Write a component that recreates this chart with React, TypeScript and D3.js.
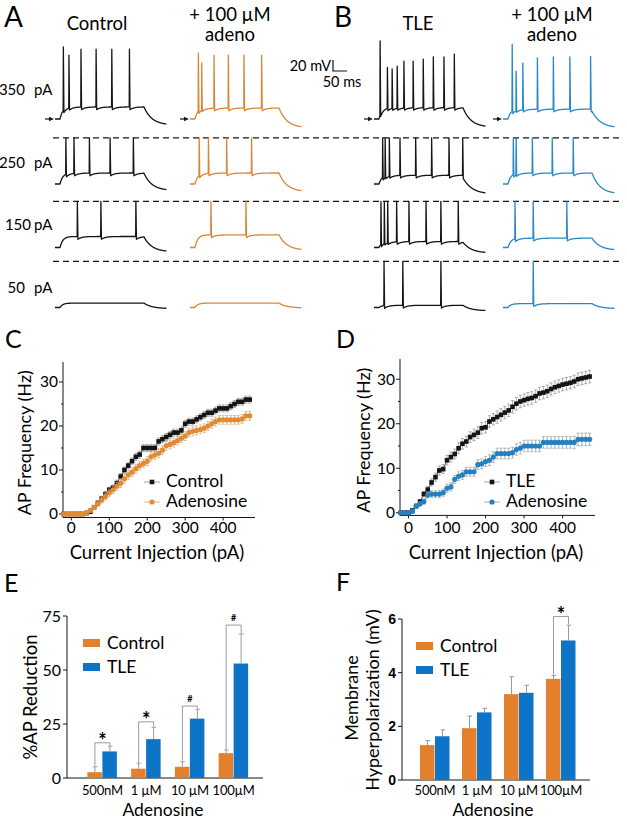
import React from 'react';
import * as d3 from 'd3';

const FONT = "Lato, 'Open Sans', 'DejaVu Sans', sans-serif";
const BLACK = '#151515';
const ORANGE_TRACE = '#D9863A';
const BLUE_TRACE = '#2A88C6';
const ORANGE = '#E4802C';
const BLUE = '#0E74C8';
const ORANGE_PT = '#E08B36';
const BLUE_PT = '#2380C2';
const GRAY = '#8f8f8f';

// ---------------- Panels A & B : voltage traces ----------------
const stepCurrents = ['350', '250', '150', '50'];
// spike times (ms after current onset), rows: 350, 250, 150, 50 pA
const ctrlSpikes = [[12, 32, 75, 129, 185, 248], [21, 50, 105, 179, 262], [62, 146, 271], []];
const ctrlAdoSpikes = [[12, 24, 68, 119, 175, 238], [15, 48, 113, 202], [57, 182], []];
const tleSpikes = [[4, 30, 47, 65, 89, 122, 158, 194, 232, 269], [13, 22, 37, 75, 131, 188, 250, 299], [7, 19, 31, 63, 107, 168, 221, 283], [18, 85, 221]];
const tleAdoSpikes = [[15, 29, 53, 105, 162, 221, 295], [19, 29, 87, 158, 233], [25, 90, 210], [90]];
// spike peaks (mV) in the 350 pA row (lower rows are clipped at the dashed line)
const ctrlPeaks350 = [61, 46, 57, 57, 57, 57];
const ctrlAdoPeaks350 = [50, 32, 46, 46, 46, 46];
const tlePeaks350 = [72, 24, 21, 26, 35, 35, 39, 43, 43, 48];
const tleAdoPeaks350 = [66, 17, 32, 41, 43, 43, 44];
const clipPeakMv = 14;
const restMv = -70;
const ctrlPlateau = [-48, -50, -50, -62];
const ctrlAdoPlateau = [-50, -50, -47, -62];
const tlePlateau = [-49, -54, -59, -66];
const tleAdoPlateau = [-52, -50, -53, -63];
const ctrlEnd = [-81, -82, -78, -72];
const ctrlAdoEnd = [-86, -84, -75, -71];
const tleEnd = [-85, -88, -80, -76];
const tleAdoEnd = [-86, -88, -75, -72];

// ---------------- Panels C & D : f-I curves ----------------
const currentsPA = [-20, -10, 0, 10, 20, 30, 40, 50, 60, 70, 80, 90, 100, 110, 120, 130, 140, 150, 160, 170, 180, 190, 200, 210, 220, 230, 240, 250, 260, 270, 280, 290, 300, 310, 320, 330, 340, 350, 360, 370, 380, 390, 400, 410, 420, 430, 440, 450, 460, 470];
const ctrlFreq = [0, 0, 0, 0, 0, 0, 0.2, 0.5, 1.5, 2.5, 3.5, 4.5, 5.5, 6, 7, 8.5, 10, 11, 12, 13, 13.5, 15, 15, 15, 15, 16.5, 17, 17.5, 18, 18.5, 18.5, 19, 20.5, 21, 21, 21.5, 22, 22.5, 23, 23, 23.5, 24, 24, 24, 24.5, 25, 25.5, 25.5, 26, 26];
const ctrlFreqErr = [0, 0, 0, 0, 0, 0, 0.2, 0.3, 0.4, 0.5, 0.5, 0.6, 0.6, 0.6, 0.7, 0.7, 0.7, 0.7, 0.7, 0.8, 0.8, 0.8, 0.8, 0.8, 0.8, 0.8, 0.8, 0.8, 0.8, 0.8, 0.8, 0.8, 0.8, 0.8, 0.8, 0.8, 0.8, 0.8, 0.8, 0.8, 0.8, 0.8, 0.8, 0.8, 0.8, 0.8, 0.8, 0.8, 0.8, 0.8];
const ctrlAdoFreq = [0, 0, 0, 0, 0, 0, 0.3, 0.8, 1.5, 2.3, 3.2, 4, 4.8, 5.5, 6.3, 7, 8, 8.9, 9.5, 10.3, 11, 11.5, 12, 13, 13.4, 13.8, 14.5, 15.5, 15.8, 16.2, 16.7, 17.2, 17.7, 18.5, 18.8, 19, 19.2, 19.5, 20, 20.5, 21, 21.4, 21.4, 21.4, 21.4, 21.4, 21.4, 21.6, 22.3, 22.3];
const ctrlAdoFreqErr = [0, 0, 0, 0, 0, 0, 0.3, 0.4, 0.5, 0.6, 0.7, 0.8, 0.8, 0.9, 0.9, 1, 1, 1, 1, 1, 1, 1, 1, 1, 1, 1, 1, 1, 1, 1, 1, 1, 1, 1, 1, 1, 1, 1, 1, 1, 1, 1, 1, 1, 1, 1, 1, 1, 1, 1];
const tleFreq = [0, 0, 0, 0.5, 1.5, 2.5, 4.2, 5.2, 6.8, 8, 9.5, 9.8, 11.8, 12.5, 13.2, 14.5, 15.5, 16, 17, 17.5, 18, 19, 19.2, 20.5, 21, 21.5, 22, 22.5, 23, 23.8, 24.5, 25, 25.3, 25.6, 25.8, 26.2, 26.8, 27, 27.3, 27.8, 28.2, 28.5, 28.8, 29, 29.2, 29.5, 30, 30.2, 30.4, 30.6];
const tleFreqErr = [0, 0, 0, 0.3, 0.4, 0.5, 0.6, 0.7, 0.8, 0.9, 1, 1, 1.1, 1.1, 1.1, 1.2, 1.2, 1.2, 1.2, 1.3, 1.3, 1.3, 1.3, 1.3, 1.3, 1.4, 1.4, 1.4, 1.4, 1.4, 1.4, 1.4, 1.4, 1.4, 1.4, 1.4, 1.4, 1.4, 1.4, 1.4, 1.4, 1.4, 1.4, 1.4, 1.4, 1.4, 1.4, 1.4, 1.4, 1.4];
const tleAdoFreq = [0, 0, 0, 0.3, 1.5, 2, 2.5, 4, 4.2, 4.2, 4.2, 4.5, 5.5, 5.8, 7.5, 8.2, 8.5, 9.2, 9.2, 9.2, 10.8, 11, 11.5, 11.8, 12.5, 13.3, 13.3, 13.3, 13.3, 13.5, 14.2, 14.5, 15, 15, 15, 15, 15, 15.8, 15.8, 15.8, 15.8, 15.8, 15.8, 15.8, 15.8, 15.8, 16.5, 16.5, 16.5, 16.5];
const tleAdoFreqErr = [0, 0, 0, 0.3, 0.5, 0.5, 0.6, 0.7, 0.7, 0.7, 0.8, 0.8, 0.9, 0.9, 0.9, 1, 1, 1, 1, 1, 1.1, 1.1, 1.1, 1.2, 1.2, 1.2, 1.2, 1.2, 1.2, 1.2, 1.3, 1.3, 1.3, 1.3, 1.3, 1.3, 1.3, 1.3, 1.3, 1.3, 1.3, 1.3, 1.3, 1.3, 1.3, 1.4, 1.4, 1.4, 1.4, 1.4];
const freqTicks = [0, 10, 20, 30];
const currentTicks = [0, 100, 200, 300, 400];

// ---------------- Panels E & F : bar charts ----------------
const concentrations = ['500nM', '1 µM', '10 µM', '100µM'];
const groups = ['Control', 'TLE'];
const apRedCtrl = [2.7, 4.3, 5.2, 11.5];
const apRedCtrlErr = [2.5, 2.6, 2.3, 1.5];
const apRedTle = [12.3, 18, 27.5, 53];
const apRedTleErr = [2.5, 5.5, 4.3, 13.7];
const apRedSig = ['*', '*', '#', '#'];
const apRedBracket = [16.3, 26, 33.3, 70.8];
const apRedTicks = [0, 25, 50, 75];
const hypCtrl = [1.3, 1.93, 3.2, 3.77];
const hypCtrlErr = [0.17, 0.45, 0.65, 0.12];
const hypTle = [1.63, 2.52, 3.25, 5.2];
const hypTleErr = [0.24, 0.15, 0.28, 0.57];
const hypSig = ['', '', '', '*'];
const hypBracket = [0, 0, 0, 6.09];
const hypTicks = [0, 2, 4, 6];

// ---------------- trace generator ----------------
function traceVoltage(t: number, spikes: number[], peaks: number[], plateau: number, endV: number) {
  const baseAt = (tt: number) => {
    if (tt < 0) return restMv;
    if (tt <= 300) return restMv + (plateau - restMv) * (1 - Math.exp(-tt / 10));
    return endV + (plateau - endV) * Math.exp(-(tt - 300) / 28);
  };
  let v = baseAt(t);
  let last = -1;
  for (let i = 0; i < spikes.length; i++) if (spikes[i] <= t) last = i;
  if (last >= 0) {
    const dt = t - spikes[last];
    if (dt <= 2) return peaks[last] + (v - 5 - peaks[last]) * (dt / 2);
    v -= 5 * Math.exp(-(dt - 2) / 14);
  }
  const ni = spikes.findIndex((s) => s > t);
  if (ni >= 0 && spikes[ni] - t < 0.75) {
    return v + (peaks[ni] - v) * (1 - (spikes[ni] - t) / 0.75);
  }
  return v;
}

const sampleTimes: number[] = [];
for (let t = -18; t <= 380; t += 0.25) sampleTimes.push(t);

export default function App() {
  const W = 627;
  const H = 819;
  const mvPerPx = 0.55;
  const msPx = 0.28;
  const rowRestY = [119, 184, 247.5, 307.5];
  const traceCols = [
    { onset: 60, color: BLACK, spikes: ctrlSpikes, peaks350: ctrlPeaks350, plateau: ctrlPlateau, end: ctrlEnd },
    { onset: 195, color: ORANGE_TRACE, spikes: ctrlAdoSpikes, peaks350: ctrlAdoPeaks350, plateau: ctrlAdoPlateau, end: ctrlAdoEnd },
    { onset: 379, color: BLACK, spikes: tleSpikes, peaks350: tlePeaks350, plateau: tlePlateau, end: tleEnd },
    { onset: 508, color: BLUE_TRACE, spikes: tleAdoSpikes, peaks350: tleAdoPeaks350, plateau: tleAdoPlateau, end: tleAdoEnd },
  ];
  const vScale = (row: number) =>
    d3.scaleLinear().domain([restMv, 0]).range([rowRestY[row], rowRestY[row] + restMv * mvPerPx]);
  const tScale = (col: number) =>
    d3.scaleLinear().domain([0, 300]).range([traceCols[col].onset, traceCols[col].onset + 300 * msPx]);

  const traces: any[] = [];
  traceCols.forEach((c, ci) => {
    const ts = tScale(ci);
    stepCurrents.forEach((_, ri) => {
      const vs = vScale(ri);
      const spikes = c.spikes[ri];
      const peaks = ri === 0 ? c.peaks350 : spikes.map(() => clipPeakMv);
      const line = d3
        .line<number>()
        .x((t) => ts(t))
        .y((t) => vs(traceVoltage(t, spikes, peaks, c.plateau[ri], c.end[ri])));
      traces.push(
        <path key={`tr-${ci}-${ri}`} d={line(sampleTimes) || ''} fill="none" stroke={c.color} strokeWidth={1.3} strokeLinejoin="round" />
      );
    });
    const tip = ts(-18) - 1;
    const ay = vScale(0)(restMv);
    traces.push(
      <g key={`arrow-${ci}`}>
        <line x1={tip - 9} x2={tip - 4} y1={ay} y2={ay} stroke={BLACK} strokeWidth={1.2} />
        <path d={`M${tip},${ay} L${tip - 5},${ay - 2.3} L${tip - 5},${ay + 2.3} Z`} fill={BLACK} />
      </g>
    );
  });
  const dashedY = [1, 2, 3].map((r) => vScale(r)(clipPeakMv));

  const sbX = 333;
  const sbY = 71;

  const fiPanel = (key: string, xr: [number, number], yr: [number, number], yDom: [number, number], series: any[], labelX: number, titleX: number, legendX: number, legendNames: string[]) => {
    const x = d3.scaleLinear().domain([-22, 484]).range(xr);
    const y = d3.scaleLinear().domain(yDom).range(yr);
    const minorTicks = [5, 15, 25];
    return (
      <g key={key}>
        <line x1={xr[0]} x2={xr[0]} y1={yr[0]} y2={yr[1] + 2} stroke={BLACK} strokeWidth={1} />
        <line x1={xr[0]} x2={xr[1]} y1={yr[0]} y2={yr[0]} stroke={BLACK} strokeWidth={1} />
        {freqTicks.map((t) => (
          <g key={`yt${t}`}>
            <line x1={xr[0] - 4} x2={xr[0]} y1={y(t)} y2={y(t)} stroke={BLACK} />
            <text x={xr[0] - 5} y={y(t)} dy="0.35em" textAnchor="end" fontSize={15.5} fontFamily={FONT}>{t}</text>
          </g>
        ))}
        {minorTicks.map((t) => (
          <line key={`ym${t}`} x1={xr[0] - 2} x2={xr[0]} y1={y(t)} y2={y(t)} stroke={BLACK} />
        ))}
        {currentTicks.map((t) => (
          <g key={`xt${t}`}>
            <line x1={x(t)} x2={x(t)} y1={yr[0]} y2={yr[0] + 3} stroke={BLACK} />
            <text x={x(t)} y={533} textAnchor="middle" fontSize={15.5} fontFamily={FONT}>{t}</text>
          </g>
        ))}
        <text transform={`translate(${labelX},${(yr[0] + yr[1]) / 2 + 4}) rotate(-90)`} textAnchor="middle" dy="0.35em" fontSize={18} fontFamily={FONT}>AP Frequency (Hz)</text>
        <text x={titleX} y={559} textAnchor="middle" fontSize={18.5} fontFamily={FONT}>Current Injection (pA)</text>
        {series.map((s, si) => {
          const line = d3.line<number>().x((_, i) => x(currentsPA[i])).y((v) => y(v));
          return (
            <g key={`s${si}`}>
              <path d={line(s.values) || ''} fill="none" stroke={s.color} strokeWidth={0.8} />
              {s.values.map((v: number, i: number) => {
                const e = s.err[i];
                if (!e) return null;
                const cx = x(currentsPA[i]);
                return (
                  <g key={`e${i}`} stroke={s.errColor} strokeWidth={0.7}>
                    <line x1={cx} x2={cx} y1={y(v - e)} y2={y(v + e)} />
                    <line x1={cx - 1.6} x2={cx + 1.6} y1={y(v + e)} y2={y(v + e)} />
                    <line x1={cx - 1.6} x2={cx + 1.6} y1={y(v - e)} y2={y(v - e)} />
                  </g>
                );
              })}
              {s.values.map((v: number, i: number) =>
                s.shape === 'square' ? (
                  <rect key={`m${i}`} x={x(currentsPA[i]) - 2.3} y={y(v) - 2.3} width={4.6} height={4.6} fill={s.color} />
                ) : (
                  <circle key={`m${i}`} cx={x(currentsPA[i])} cy={y(v)} r={2.6} fill={s.color} />
                )
              )}
            </g>
          );
        })}
        {series.map((s, si) => {
          const ly = 482 + si * 20;
          return (
            <g key={`lg${si}`}>
              <line x1={legendX - 8} x2={legendX + 8} y1={ly} y2={ly} stroke={s.errColor} strokeWidth={0.8} />
              {s.shape === 'square' ? (
                <rect x={legendX - 2.3} y={ly - 2.3} width={4.6} height={4.6} fill={s.color} />
              ) : (
                <circle cx={legendX} cy={ly} r={2.6} fill={s.color} />
              )}
              <text x={legendX + 14} y={ly + 5} fontSize={17.5} fontFamily={FONT}>{legendNames[si]}</text>
            </g>
          );
        })}
      </g>
    );
  };

  const barPanel = (key: string, xAxis: [number, number], band: [number, number], yr: [number, number], yDom: [number, number], ticks: number[], ctrl: number[], ctrlErr: number[], tle: number[], tleErr: number[], sig: string[], bracket: number[], bold: boolean, legendX: number, legendY: number, xLabelY: number, titleY: number) => {
    const x0 = d3.scaleBand<string>().domain(concentrations).range(band);
    const x1 = d3.scaleBand<string>().domain(groups).range([-15, 15]);
    const y = d3.scaleLinear().domain(yDom).range(yr);
    const center = (c: string) => (x0(c) || 0) + x0.bandwidth() / 2;
    const bw = x1.bandwidth() - 0.5;
    return (
      <g key={key}>
        <line x1={xAxis[0]} x2={xAxis[0]} y1={yr[0]} y2={yr[1]} stroke={BLACK} />
        <line x1={xAxis[0]} x2={xAxis[1]} y1={yr[0]} y2={yr[0]} stroke={BLACK} />
        {ticks.map((t) => (
          <g key={`t${t}`}>
            <line x1={xAxis[0] - 4} x2={xAxis[0]} y1={y(t)} y2={y(t)} stroke={BLACK} />
            <text x={xAxis[0] - 6} y={y(t)} dy="0.35em" textAnchor="end" fontSize={bold ? 14 : 16} fontWeight={bold ? 'bold' : 'normal'} fontFamily={bold ? "'Liberation Sans', Arial, sans-serif" : FONT}>{t}</text>
          </g>
        ))}
        {concentrations.map((c, i) => {
          const cx = center(c);
          const xc = cx + (x1('Control') || 0);
          const xt = cx + (x1('TLE') || 0);
          const mc = xc + x1.bandwidth() / 2;
          const mt = xt + x1.bandwidth() / 2;
          return (
            <g key={c}>
              <rect x={xc} y={y(ctrl[i])} width={bw} height={y(0) - y(ctrl[i])} fill={ORANGE} />
              <rect x={xt} y={y(tle[i])} width={bw} height={y(0) - y(tle[i])} fill={BLUE} />
              <g stroke={GRAY} strokeWidth={0.9}>
                <line x1={mc} x2={mc} y1={y(ctrl[i])} y2={y(ctrl[i] + ctrlErr[i])} />
                <line x1={mc - 2} x2={mc + 2.5} y1={y(ctrl[i] + ctrlErr[i])} y2={y(ctrl[i] + ctrlErr[i])} />
                <line x1={mt} x2={mt} y1={y(tle[i])} y2={y(tle[i] + tleErr[i])} />
                <line x1={mt - 2} x2={mt + 2.5} y1={y(tle[i] + tleErr[i])} y2={y(tle[i] + tleErr[i])} />
              </g>
              {sig[i] ? (
                <g>
                  <path d={`M${mc},${y(ctrl[i] + ctrlErr[i]) - 1} V${y(bracket[i])} H${mt} V${y(tle[i] + tleErr[i]) - 1}`} fill="none" stroke={GRAY} strokeWidth={0.9} />
                  {sig[i] === '*' ? (
                    <text x={(mc + mt) / 2} y={y(bracket[i]) + 5} textAnchor="middle" fontSize={20} fontWeight="bold" fontFamily={FONT}>*</text>
                  ) : (
                    <text x={(mc + mt) / 2} y={y(bracket[i]) - 4} textAnchor="middle" fontSize={9} fontWeight="bold" fontFamily={FONT}>#</text>
                  )}
                </g>
              ) : null}
              <text x={cx} y={xLabelY} textAnchor="middle" fontSize={13} letterSpacing={-0.2} fontFamily={FONT}>{c}</text>
            </g>
          );
        })}
        {groups.map((g, gi) => (
          <g key={g}>
            <rect x={legendX} y={legendY + gi * 24 - 4} width={17} height={8} fill={gi === 0 ? ORANGE : BLUE} />
            <text x={legendX + 24} y={legendY + gi * 24 + 6} fontSize={17.5} fontFamily={FONT}>{g}</text>
          </g>
        ))}
        <text x={(band[0] + band[1]) / 2 - 5} y={titleY} textAnchor="middle" fontSize={17.5} fontFamily={FONT}>Adenosine</text>
      </g>
    );
  };

  return (
    <svg width={W} height={H} style={{ position: 'absolute', left: 0, top: 0, background: '#fff' }} fontFamily={FONT}>
      <rect x={0} y={0} width={W} height={H} fill="#fff" />
      <text x={4} y={27} fontSize={28}>A</text>
      <text x={334} y={27} fontSize={28}>B</text>
      <text x={5} y={348} fontSize={25}>C</text>
      <text x={336} y={348} fontSize={25}>D</text>
      <text x={4} y={592} fontSize={25}>E</text>
      <text x={336} y={591} fontSize={25}>F</text>

      <text x={97} y={30} textAnchor="middle" fontSize={18.5}>Control</text>
      <text x={230} y={21} textAnchor="middle" fontSize={18.5}>+ 100 µM</text>
      <text x={230} y={41} textAnchor="middle" fontSize={18.5}>adeno</text>
      <text x={418} y={30} textAnchor="middle" fontSize={18.5}>TLE</text>
      <text x={552} y={21} textAnchor="middle" fontSize={18.5}>+ 100 µM</text>
      <text x={552} y={41} textAnchor="middle" fontSize={18.5}>adeno</text>

      {stepCurrents.map((s, ri) => {
        const ys = [95, 168, 230, 293];
        return (
          <g key={`rl${s}`}>
            <text x={ri === 3 ? 25 : ri === 2 ? 31 : 25} y={ys[ri]} textAnchor="end" fontSize={15}>{s}</text>
            <text x={34} y={ys[ri]} fontSize={15}>pA</text>
          </g>
        );
      })}

      {dashedY.map((y, i) => (
        <line key={`d${i}`} x1={53} x2={620} y1={y} y2={y} stroke={BLACK} strokeWidth={1.2} strokeDasharray="6,4" />
      ))}

      {traces}

      <path d={`M${sbX},${sbY - 20 * mvPerPx} V${sbY} H${sbX + 50 * msPx}`} fill="none" stroke={BLACK} strokeWidth={1.2} />
      <text x={sbX - 2} y={sbY} textAnchor="end" fontSize={14.5}>20 mV</text>
      <text x={342} y={87} textAnchor="middle" fontSize={14.5}>50 ms</text>

      {fiPanel('C', [63, 255], [517.5, 360], [-0.8, 35], [
        { values: ctrlFreq, err: ctrlFreqErr, color: BLACK, errColor: GRAY, shape: 'square' },
        { values: ctrlAdoFreq, err: ctrlAdoFreqErr, color: ORANGE_PT, errColor: '#E3A268', shape: 'circle' },
      ], 25, 157, 152, ['Control', 'Adenosine'])}
      {fiPanel('D', [400, 595], [515.4, 357], [-0.6, 35], [
        { values: tleFreq, err: tleFreqErr, color: BLACK, errColor: GRAY, shape: 'square' },
        { values: tleAdoFreq, err: tleAdoFreqErr, color: BLUE_PT, errColor: '#9a9a9a', shape: 'circle' },
      ], 364, 496, 492, ['TLE', 'Adenosine'])}

      {barPanel('E', [67, 263], [80.5, 255.5], [778, 616], [0, 75], apRedTicks, apRedCtrl, apRedCtrlErr, apRedTle, apRedTleErr, apRedSig, apRedBracket, false, 83, 643, 795, 816)}
      <text transform="translate(31,697) rotate(-90)" textAnchor="middle" dy="0.35em" fontSize={18.5}>%AP Reduction</text>

      {barPanel('F', [402, 590], [414, 582], [780, 619], [0, 6], hypTicks, hypCtrl, hypCtrlErr, hypTle, hypTleErr, hypSig, hypBracket, true, 416, 646, 795, 816)}
      <text transform="translate(352,698) rotate(-90)" textAnchor="middle" dy="0.35em" fontSize={18}>Membrane</text>
      <text transform="translate(373,700) rotate(-90)" textAnchor="middle" dy="0.35em" fontSize={18}>Hyperpolarization (mV)</text>
    </svg>
  );
}
